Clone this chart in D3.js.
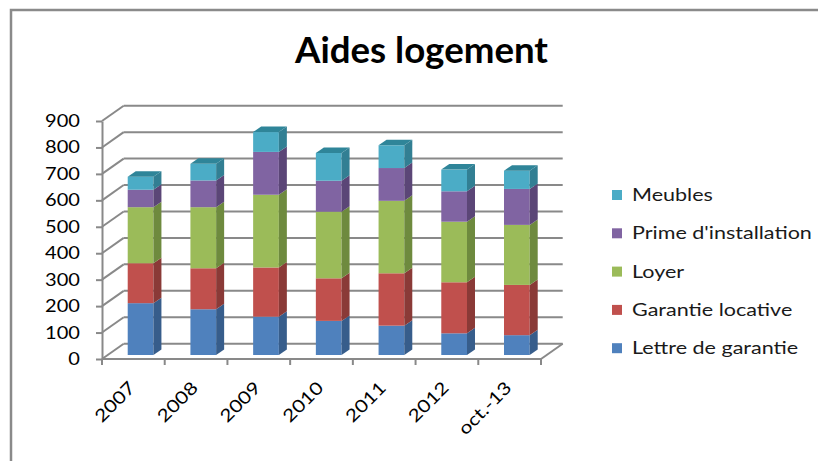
<!DOCTYPE html>
<html>
<head>
<meta charset="utf-8">
<script src="https://cdn.jsdelivr.net/npm/d3@7/dist/d3.min.js"></script>
<style>
  html, body { margin: 0; padding: 0; background: #ffffff; }
  svg { display: block; }
  text { font-family: Lato, "Open Sans", sans-serif; }
</style>
</head>
<body>
<svg id="chart" width="818" height="461"></svg>
<script>
// ---- data ----
const categories = ["2007", "2008", "2009", "2010", "2011", "2012", "oct.-13"];
const lettreDeGarantie = [196, 173, 145, 129, 111, 82, 75];
const garantieLocative = [151, 155, 186, 161, 198, 193, 190];
const loyer = [212, 231, 275, 252, 274, 229, 227];
const primeInstallation = [66, 101, 162, 117, 124, 115, 136];
const meubles = [49, 63, 75, 105, 86, 82, 69];
const seriesNames = ["Lettre de garantie", "Garantie locative", "Loyer", "Prime d'installation", "Meubles"];
const yTicks = [0, 100, 200, 300, 400, 500, 600, 700, 800, 900];
const title = "Aides logement";

// ---- styles ----
const frontColors = ["#4F81BD", "#C0504D", "#9BBB59", "#8064A2", "#4BACC6"];
const sideColors  = ["#375D8B", "#8A3A37", "#6E8A3E", "#5B4677", "#327F93"];
const topColor = "#2F8599";
const gridColor = "#898989";

const svg = d3.select("#chart");

function stretch(sel, k) {
  sel.each(function () {
    const w = this.getComputedTextLength();
    d3.select(this).attr("textLength", w * k).attr("lengthAdjust", "spacingAndGlyphs");
  });
}

// frame
svg.append("path")
  .attr("d", "M11,461 L11,10 L818,10")
  .attr("fill", "none").attr("stroke", "#8a8a8a").attr("stroke-width", 2.5);

// title
const t = svg.append("text")
  .attr("x", 421.5).attr("y", 63)
  .attr("text-anchor", "middle")
  .attr("font-size", 37).attr("font-weight", 700).attr("fill", "#000")
  .text(title);
t.attr("textLength", 253).attr("lengthAdjust", "spacingAndGlyphs");

// ---- scales ----
const x = d3.scaleBand().domain(categories).range([102, 541]).padding(0);
const bw = x.bandwidth();
const yFront = d3.scaleLinear().domain([0, 900]).range([359, 121]);
const depthX = 21.7, depthY = -15.3;            // wall depth
const barShiftY = -4;                            // bar plane vs front plane
const yBar = v => yFront(v) + barShiftY;
const barDX = 8, barDY = -5.5;                   // bar depth
const xEnd = x.range()[1];

// ---- walls / grid ----
const grid = svg.append("g").attr("stroke", gridColor).attr("stroke-width", 2).attr("fill", "none");
yTicks.forEach(v => {
  const yf = yFront(v);
  grid.append("line").attr("x1", 102).attr("y1", yf).attr("x2", 102 + depthX).attr("y2", yf + depthY);
  grid.append("line").attr("x1", 102 + depthX).attr("y1", yf + depthY).attr("x2", xEnd + depthX).attr("y2", yf + depthY);
});
// floor front edge and right edge
grid.append("line").attr("x1", 102).attr("y1", yFront(0)).attr("x2", xEnd).attr("y2", yFront(0));
grid.append("line").attr("x1", xEnd).attr("y1", yFront(0)).attr("x2", xEnd + depthX).attr("y2", yFront(0) + depthY);

// y axis
const yAxis = d3.axisLeft(yFront).tickValues(yTicks).tickSize(6).tickPadding(16).tickSizeOuter(0);
const gy = svg.append("g").attr("transform", "translate(102,0)").call(yAxis);
gy.select(".domain").attr("stroke", gridColor).attr("stroke-width", 2);
gy.selectAll(".tick line").attr("stroke", gridColor).attr("stroke-width", 2);
gy.selectAll(".tick text").attr("font-size", 17).attr("fill", "#000").attr("font-family", "Lato, sans-serif");
stretch(gy.selectAll(".tick text"), 1.18);

// x axis ticks at band boundaries
const xTickPos = categories.map(c => x(c)).concat([xEnd]);
svg.append("g").selectAll("line").data(xTickPos).join("line")
  .attr("x1", d => d).attr("x2", d => d)
  .attr("y1", yFront(0)).attr("y2", yFront(0) + 6)
  .attr("stroke", gridColor).attr("stroke-width", 2);

const xl = svg.append("g").selectAll("text").data(categories).join("text")
  .attr("transform", c => `translate(${x(c) + bw / 2 + 3},389) rotate(-45)`)
  .attr("text-anchor", "end")
  .attr("font-size", 17.5).attr("fill", "#000")
  .text(c => c);
stretch(xl, 1.2);

// ---- bars ----
const seriesData = [lettreDeGarantie, garantieLocative, loyer, primeInstallation, meubles];
const stackRows = categories.map((c, i) => {
  const row = { cat: c };
  seriesNames.forEach((s, j) => row[s] = seriesData[j][i]);
  return row;
});
const stacked = d3.stack().keys(seriesNames)(stackRows);

const barsG = svg.append("g");
categories.forEach((c, i) => {
  const x0 = x(c) + bw * 0.41;
  const w = bw * 0.41;
  const g = barsG.append("g");
  stacked.forEach((layer, j) => {
    const [v0, v1] = layer[i];
    const yb = yBar(v0), yt = yBar(v1);
    g.append("rect").attr("x", x0).attr("y", yt).attr("width", w).attr("height", yb - yt)
      .attr("fill", frontColors[j]);
    g.append("path")
      .attr("d", `M${x0 + w},${yb} L${x0 + w + barDX},${yb + barDY} L${x0 + w + barDX},${yt + barDY} L${x0 + w},${yt} Z`)
      .attr("fill", sideColors[j]);
  });
  const top = yBar(stacked[stacked.length - 1][i][1]);
  g.append("path")
    .attr("d", `M${x0},${top} L${x0 + w},${top} L${x0 + w + barDX},${top + barDY} L${x0 + barDX},${top + barDY} Z`)
    .attr("fill", topColor);
});

// ---- legend ----
const legendOrder = seriesNames.map((s, j) => ({ name: s, color: frontColors[j] })).reverse();
const lg = svg.append("g").selectAll("g").data(legendOrder).join("g")
  .attr("transform", (d, i) => `translate(612,${195 + i * 38.3})`);
lg.append("rect").attr("x", 0).attr("y", -5).attr("width", 10).attr("height", 10).attr("fill", d => d.color);
const lt = lg.append("text").attr("x", 20).attr("y", 6).attr("font-size", 17.5).attr("fill", "#1a1a1a")
  .text(d => d.name);
stretch(lt, 1.23);
</script>
</body>
</html>
